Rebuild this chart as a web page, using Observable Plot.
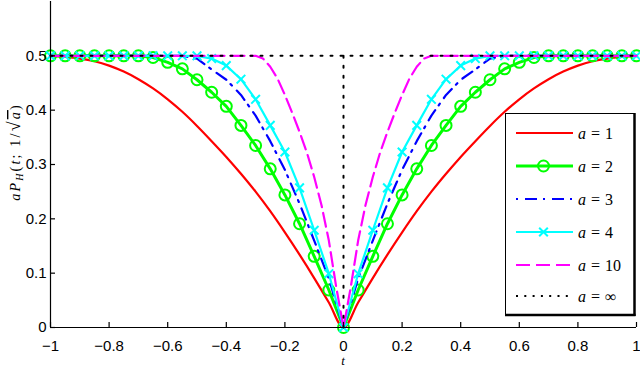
<!DOCTYPE html>
<html><head><meta charset="utf-8">
<script src="https://cdn.jsdelivr.net/npm/d3@7"></script>
<script src="https://cdn.jsdelivr.net/npm/@observablehq/plot@0.6"></script>
<style>
body{margin:0;background:#fff;}
#wrap{position:relative;width:640px;height:369px;overflow:hidden;}
#wrap svg{position:absolute;left:0;top:0;}
</style></head><body><div id="wrap"></div>
<script>
// ---- data ----
const xTicks = [-1, -0.8, -0.6, -0.4, -0.2, 0, 0.2, 0.4, 0.6, 0.8, 1];
const yTicks = [0, 0.1, 0.2, 0.3, 0.4, 0.5];
const legendLabels = ["1", "2", "3", "4", "10", "\u221e"];

const tGrid = [-1, -0.95, -0.9, -0.85, -0.8, -0.75, -0.7, -0.65, -0.6, -0.55, -0.5, -0.45, -0.4, -0.35, -0.3, -0.25, -0.2, -0.15, -0.1, -0.05,
  0, 0.05, 0.1, 0.15, 0.2, 0.25, 0.3, 0.35, 0.4, 0.45, 0.5, 0.55, 0.6, 0.65, 0.7, 0.75, 0.8, 0.85, 0.9, 0.95, 1];

const a1 = [0.5, 0.498, 0.495, 0.49, 0.482, 0.471, 0.457, 0.44, 0.42, 0.397, 0.371, 0.343, 0.314, 0.283, 0.25, 0.214, 0.175, 0.134, 0.091, 0.046,
  0, 0.046, 0.091, 0.134, 0.175, 0.214, 0.25, 0.283, 0.314, 0.343, 0.371, 0.397, 0.42, 0.44, 0.457, 0.471, 0.482, 0.49, 0.495, 0.498, 0.5];

const a2 = [0.5, 0.5, 0.5, 0.5, 0.5, 0.5, 0.5, 0.497, 0.488, 0.476, 0.456, 0.433, 0.407, 0.372, 0.335, 0.292, 0.244, 0.191, 0.131, 0.069,
  0, 0.069, 0.131, 0.191, 0.244, 0.292, 0.335, 0.372, 0.407, 0.433, 0.456, 0.476, 0.488, 0.497, 0.5, 0.5, 0.5, 0.5, 0.5, 0.5, 0.5];

const a3 = [0.5, 0.5, 0.5, 0.5, 0.5, 0.5, 0.5, 0.5, 0.5, 0.5, 0.495, 0.475, 0.456, 0.428, 0.39, 0.343, 0.29, 0.228, 0.16, 0.09,
  0, 0.09, 0.16, 0.228, 0.29, 0.343, 0.39, 0.428, 0.456, 0.475, 0.495, 0.5, 0.5, 0.5, 0.5, 0.5, 0.5, 0.5, 0.5, 0.5, 0.5];

const a4 = [0.5, 0.5, 0.5, 0.5, 0.5, 0.5, 0.5, 0.5, 0.5, 0.5, 0.5, 0.495, 0.482, 0.457, 0.42, 0.372, 0.323, 0.257, 0.179, 0.099,
  0, 0.099, 0.179, 0.257, 0.323, 0.372, 0.42, 0.457, 0.482, 0.495, 0.5, 0.5, 0.5, 0.5, 0.5, 0.5, 0.5, 0.5, 0.5, 0.5, 0.5];

const t10 = [-1, -0.3, -0.275, -0.25, -0.225, -0.2, -0.175, -0.15, -0.125, -0.1, -0.075, -0.05, -0.025,
  0, 0.025, 0.05, 0.075, 0.1, 0.125, 0.15, 0.175, 0.2, 0.225, 0.25, 0.275, 0.3, 1];
const a10 = [0.5, 0.5, 0.495, 0.48, 0.458, 0.428, 0.395, 0.36, 0.322, 0.277, 0.225, 0.16, 0.075,
  0, 0.075, 0.16, 0.225, 0.277, 0.322, 0.36, 0.395, 0.428, 0.458, 0.48, 0.495, 0.5, 0.5];

const tInf = [-1, 1, 0, 0];
const aInf = [0.5, 0.5, 0.5, 0];
const segInf = ["h", "h", "v", "v"];

// ---- build tables ----
const tbl = (ts, vs) => ts.map((t, i) => ({t, v: vs[i]}));
const infTable = tInf.map((t, i) => ({t, v: aInf[i], s: segInf[i]}));
const fmt = d => (d < 0 ? "\u2212" : "") + String(Math.abs(d));

const RED = "#ff0000", GREEN = "#00ff00", BLUE = "#0000ff", CYAN = "#00ffff", MAG = "#ff00ff", BLK = "#000000";
const DASHDOT = "2,7,12,6", DASH = "14,6", DOT = "2,8";

const chart = Plot.plot({
  width: 640, height: 369,
  marginLeft: 50, marginRight: 4, marginTop: 1, marginBottom: 42,
  x: {domain: [-1, 1], label: null},
  y: {domain: [0, 0.6], label: null},
  style: {fontFamily: "'Liberation Sans', Arial, sans-serif", fontSize: "15px", color: "#000", background: "transparent", overflow: "visible"},
  marks: [
    Plot.line(tbl(tGrid, a1), {x: "t", y: "v", stroke: RED, strokeWidth: 2.2, curve: "monotone-x"}),
    Plot.line(tbl(tGrid, a2), {x: "t", y: "v", stroke: GREEN, strokeWidth: 3}),
    Plot.dot(tbl(tGrid, a2), {x: "t", y: "v", stroke: GREEN, strokeWidth: 2, r: 5.5, symbol: "circle"}),
    Plot.line(tbl(tGrid, a3), {x: "t", y: "v", stroke: BLUE, strokeWidth: 2.2, strokeDasharray: DASHDOT}),
    Plot.line(tbl(tGrid, a4), {x: "t", y: "v", stroke: CYAN, strokeWidth: 2.2}),
    Plot.dot(tbl(tGrid, a4), {x: "t", y: "v", stroke: CYAN, strokeWidth: 2, r: 4, symbol: "times"}),
    Plot.line(tbl(t10, a10), {x: "t", y: "v", stroke: MAG, strokeWidth: 2.2, strokeDasharray: DASH}),
    Plot.line(infTable, {x: "t", y: "v", z: "s", stroke: BLK, strokeWidth: 2, strokeDasharray: DOT}),
    Plot.ruleY([0], {stroke: "#000", strokeWidth: 1.2}),
    Plot.ruleX([-1], {stroke: "#000", strokeWidth: 1.2}),
    Plot.axisX(xTicks, {tickSize: -5, tickPadding: 18, label: null, strokeWidth: 1.2, tickFormat: fmt}),
    Plot.axisY(yTicks, {tickSize: -5, tickPadding: 9, label: null, strokeWidth: 1.2, tickFormat: fmt})
  ]
});

const wrap = document.getElementById("wrap");
wrap.appendChild(chart);

// ---- overlay: axis labels and legend ----
const ov = d3.select(wrap).append("svg").attr("width", 640).attr("height", 369)
  .style("pointer-events", "none");
const serif = "'Liberation Serif', 'DejaVu Serif', serif";

ov.append("text").attr("x", 343).attr("y", 365).attr("text-anchor", "middle")
  .attr("font-family", serif).attr("font-style", "italic").attr("font-size", 13).text("t");

const yl = ov.append("text").attr("transform", "translate(20,152) rotate(-90)")
  .attr("text-anchor", "middle").attr("font-family", serif).attr("font-size", 14)
  .attr("letter-spacing", 2.2);
yl.append("tspan").attr("font-style", "italic").text("a");
yl.append("tspan").attr("font-style", "italic").text("P");
yl.append("tspan").attr("font-style", "italic").attr("font-size", 10).attr("dy", 3).text("H");
yl.append("tspan").attr("dy", -3).text("(");
yl.append("tspan").attr("font-style", "italic").text("t");
yl.append("tspan").text("; 1/");
yl.append("tspan").attr("font-size", 18).text("\u221a");
yl.append("tspan").attr("font-style", "italic").attr("text-decoration", "overline").text("a");
yl.append("tspan").text(")");

// legend
const lg = ov.append("g").attr("transform", "translate(505,113)");
lg.append("rect").attr("x", 0.5).attr("y", 0.5).attr("width", 129).attr("height", 201)
  .attr("fill", "#fff").attr("stroke", "#000").attr("stroke-width", 1);
lg.append("line").attr("x1", 0).attr("x2", 130.5).attr("y1", 202).attr("y2", 202).attr("stroke", "#000").attr("stroke-width", 2.5);
lg.append("line").attr("x1", 129.5).attr("x2", 129.5).attr("y1", 0).attr("y2", 203).attr("stroke", "#000").attr("stroke-width", 2.5);

const legendStyles = [
  {c: RED, w: 2.2, d: null, m: null},
  {c: GREEN, w: 3, d: null, m: "circle"},
  {c: BLUE, w: 2.2, d: DASHDOT, m: null},
  {c: CYAN, w: 2.2, d: null, m: "times"},
  {c: MAG, w: 2.2, d: DASH, m: null},
  {c: BLK, w: 2, d: "2,6.3", m: null}
];
const rowY = [20, 53, 86, 119, 152, 183];
legendLabels.forEach((lab, i) => {
  const s = legendStyles[i], y = rowY[i];
  const ln = lg.append("line").attr("x1", 11).attr("x2", 68).attr("y1", y).attr("y2", y)
    .attr("stroke", s.c).attr("stroke-width", s.w);
  if (s.d) ln.attr("stroke-dasharray", s.d);
  if (s.m === "circle") lg.append("circle").attr("cx", 38.5).attr("cy", y).attr("r", 5.5)
    .attr("fill", "none").attr("stroke", s.c).attr("stroke-width", 2);
  if (s.m === "times") lg.append("path").attr("transform", `translate(38.5,${y})`)
    .attr("d", d3.symbol(d3.symbolTimes, Math.PI * 16)()).attr("fill", "none").attr("stroke", s.c).attr("stroke-width", 2);
  const tx = lg.append("text").attr("x", 73).attr("y", y + 6).attr("font-family", serif).attr("font-size", 16);
  tx.append("tspan").attr("font-style", "italic").text("a");
  tx.append("tspan").attr("dx", 5).text("=");
  tx.append("tspan").attr("dx", 5).text(lab);
});
</script></body></html>
